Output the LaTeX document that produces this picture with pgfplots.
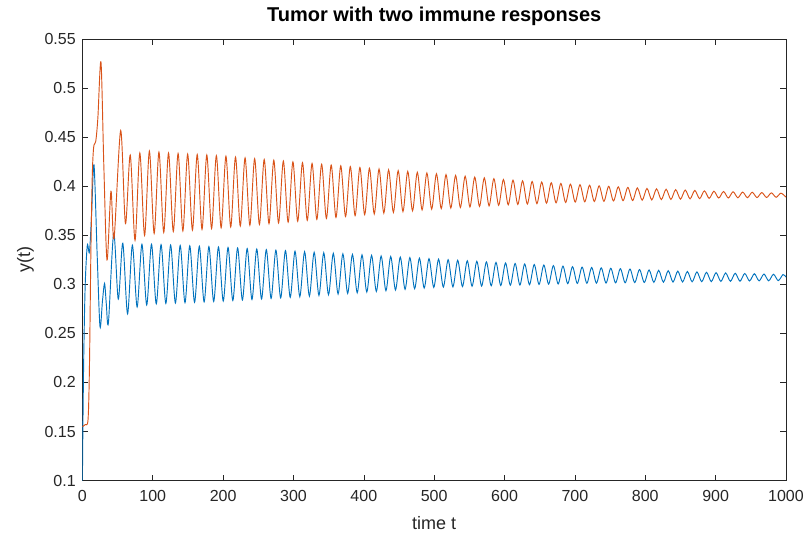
\documentclass[border=0pt]{standalone}
\usepackage{fontspec}
\setmainfont{Liberation Sans}
\usepackage{pgfplots}
\pgfplotsset{compat=1.18}
\usetikzlibrary{calc}
\definecolor{mblue}{RGB}{0,114,189}
\definecolor{morange}{RGB}{217,83,25}
\definecolor{axisgray}{RGB}{38,38,38}
\begin{document}
\begin{tikzpicture}
\begin{axis}[
  scale only axis,
  width=527.7pt, height=330.9pt,
  xmin=0, xmax=1000, ymin=0.1, ymax=0.55,
  xtick={0,100,200,300,400,500,600,700,800,900,1000},
  ytick={0.1,0.15,0.2,0.25,0.3,0.35,0.4,0.45,0.5,0.55},
  tick align=inside,
  major tick length=4.5pt,
  axis line style={draw=axisgray, line width=0.5pt},
  every tick/.style={axisgray, line width=0.5pt},
  /pgf/number format/assume math mode=true,
  /pgf/number format/1000 sep={},
  ticklabel style={font=\fontsize{12}{14}\selectfont, text=axisgray},
  yticklabel style={/pgf/number format/fixed, /pgf/number format/precision=2, xshift=-1.5pt},
  xticklabel style={yshift=-4pt},
  title={Tumor with two immune responses},
  title style={font=\fontsize{15}{18}\selectfont\bfseries, at={(axis description cs:0.5,1)}, anchor=base, yshift=7.5pt},
  xlabel={time t},
  xlabel style={font=\fontsize{13.5}{16}\selectfont, text=axisgray, at={(axis description cs:0.5,0)}, anchor=base, yshift=-36.4pt},
  ylabel={y(t)},
  ylabel style={font=\fontsize{13.5}{16}\selectfont, text=axisgray, at={(axis description cs:0,0.5)}, anchor=center, yshift=42.7pt},
]
\addplot[mblue, line width=0.7pt, smooth, tension=0.5] coordinates {
(0,0.100)(0.8,0.160)(2,0.230)(4,0.300)(7,0.340)(10,0.333)(13,0.370)(16.5,0.422)(21,0.330)(25,0.257)(28.5,0.283)(31.5,0.301)(34,0.280)(37,0.261)(44.5,0.352)(51,0.285)
(57.4,0.342)(64.2,0.270)(71.0,0.340)(77.8,0.277)(84.6,0.341)(91.4,0.279)(98.2,0.341)
(105.0,0.2802)(111.8,0.3406)(118.6,0.2806)(125.4,0.3402)(132.2,0.2810)(139.0,0.3398)(145.8,0.2814)(152.6,0.3394)(159.4,0.2818)(166.2,0.3390)
(173.0,0.2822)(179.8,0.3386)(186.6,0.2826)(193.4,0.3382)(200.2,0.2830)(207.0,0.3377)(213.8,0.2836)(220.6,0.3372)(227.4,0.2841)(234.2,0.3366)
(241.0,0.2846)(247.8,0.3361)(254.6,0.2852)(261.4,0.3355)(268.2,0.2857)(275.0,0.3350)(281.8,0.2862)(288.6,0.3345)(295.4,0.2868)(302.2,0.3339)
(309.0,0.2875)(315.8,0.3334)(322.6,0.2881)(329.4,0.3328)(336.2,0.2888)(343.0,0.3323)(349.8,0.2895)(356.6,0.3317)(363.4,0.2902)(370.2,0.3312)
(377.0,0.2909)(383.8,0.3306)(390.6,0.2915)(397.4,0.3301)(404.2,0.2922)(411.0,0.3296)(417.8,0.2929)(424.6,0.3290)(431.4,0.2936)(438.2,0.3285)
(445.0,0.2943)(451.8,0.3279)(458.6,0.2950)(465.4,0.3274)(472.2,0.2956)(479.0,0.3268)(485.8,0.2963)(492.6,0.3263)(499.4,0.2970)(506.2,0.3258)
(513.0,0.2973)(519.8,0.3252)(526.6,0.2975)(533.4,0.3247)(540.2,0.2978)(547.0,0.3241)(553.8,0.2981)(560.6,0.3236)(567.4,0.2983)(574.2,0.3230)
(581.0,0.2986)(587.8,0.3225)(594.6,0.2989)(601.4,0.3219)(608.2,0.2992)(615.0,0.3214)(621.8,0.2994)(628.6,0.3209)(635.4,0.2997)(642.2,0.3203)
(649.0,0.3000)(655.8,0.3198)(662.6,0.3003)(669.4,0.3192)(676.2,0.3005)(683.0,0.3187)(689.8,0.3008)(696.6,0.3181)(703.4,0.3010)(710.2,0.3177)
(717.0,0.3012)(723.8,0.3173)(730.6,0.3013)(737.4,0.3169)(744.2,0.3014)(751.0,0.3165)(757.8,0.3016)(764.6,0.3161)(771.4,0.3017)(778.2,0.3157)
(785.0,0.3019)(791.8,0.3152)(798.6,0.3020)(805.4,0.3148)(812.2,0.3021)(819.0,0.3144)(825.8,0.3023)(832.6,0.3140)(839.4,0.3024)(846.2,0.3136)
(853.0,0.3025)(859.8,0.3132)(866.6,0.3027)(873.4,0.3128)(880.2,0.3028)(887.0,0.3124)(893.8,0.3029)(900.6,0.3120)(907.4,0.3031)(914.2,0.3117)
(921.0,0.3032)(927.8,0.3114)(934.6,0.3033)(941.4,0.3112)(948.2,0.3035)(955.0,0.3109)(961.8,0.3036)(968.6,0.3106)(975.4,0.3037)(982.2,0.3104)
(989.0,0.3039)(995.8,0.3101)(1000,0.3075)
};
\addplot[morange, line width=0.7pt, smooth, tension=0.5] coordinates {
(0,0.155)(4,0.157)(8,0.162)(10,0.215)(12,0.330)(14,0.410)(16,0.440)(19,0.446)(22,0.470)(26.4,0.527)(30.5,0.420)(35,0.325)(40.6,0.395)(45,0.347)
(54.4,0.457)(61.2,0.362)(68.0,0.432)(74.8,0.345)(81.6,0.434)(88.4,0.350)(95.2,0.436)(102.0,0.352)
(108.8,0.4350)(115.6,0.3530)(122.4,0.4340)(129.2,0.3540)(136.0,0.4336)(142.8,0.3546)(149.6,0.4330)(156.4,0.3554)(163.2,0.4325)(170.0,0.3562)
(176.8,0.4320)(183.6,0.3570)(190.4,0.4314)(197.2,0.3578)(204.0,0.4308)(210.8,0.3586)(217.6,0.4299)(224.4,0.3595)(231.2,0.4291)(238.0,0.3603)
(244.8,0.4283)(251.6,0.3611)(258.4,0.4275)(265.2,0.3619)(272.0,0.4267)(278.8,0.3627)(285.6,0.4259)(292.4,0.3635)(299.2,0.4250)(306.0,0.3644)
(312.8,0.4242)(319.6,0.3654)(326.4,0.4234)(333.2,0.3663)(340.0,0.4226)(346.8,0.3673)(353.6,0.4218)(360.4,0.3683)(367.2,0.4210)(374.0,0.3692)
(380.8,0.4202)(387.6,0.3701)(394.4,0.4193)(401.2,0.3711)(408.0,0.4185)(414.8,0.3719)(421.6,0.4177)(428.4,0.3727)(435.2,0.4169)(442.0,0.3735)
(448.8,0.4161)(455.6,0.3743)(462.4,0.4153)(469.2,0.3751)(476.0,0.4144)(482.8,0.3760)(489.6,0.4136)(496.4,0.3768)(503.2,0.4128)(510.0,0.3774)
(516.8,0.4120)(523.6,0.3779)(530.4,0.4112)(537.2,0.3785)(544.0,0.4104)(550.8,0.3790)(557.6,0.4095)(564.4,0.3796)(571.2,0.4087)(578.0,0.3801)
(584.8,0.4079)(591.6,0.3807)(598.4,0.4071)(605.2,0.3812)(612.0,0.4064)(618.8,0.3816)(625.6,0.4057)(632.4,0.3820)(639.2,0.4050)(646.0,0.3824)
(652.8,0.4044)(659.6,0.3829)(666.4,0.4037)(673.2,0.3832)(680.0,0.4030)(686.8,0.3836)(693.6,0.4023)(700.4,0.3840)(707.2,0.4017)(714.0,0.3843)
(720.8,0.4012)(727.6,0.3846)(734.4,0.4006)(741.2,0.3848)(748.0,0.4001)(754.8,0.3851)(761.6,0.3995)(768.4,0.3854)(775.2,0.3990)(782.0,0.3856)
(788.8,0.3984)(795.6,0.3859)(802.4,0.3979)(809.2,0.3862)(816.0,0.3975)(822.8,0.3865)(829.6,0.3971)(836.4,0.3867)(843.2,0.3967)(850.0,0.3870)
(856.8,0.3963)(863.6,0.3873)(870.4,0.3959)(877.2,0.3875)(884.0,0.3955)(890.8,0.3878)(897.6,0.3951)(904.4,0.3881)(911.2,0.3948)(918.0,0.3882)
(924.8,0.3945)(931.6,0.3884)(938.4,0.3942)(945.2,0.3885)(952.0,0.3940)(958.8,0.3886)(965.6,0.3937)(972.4,0.3887)(979.2,0.3934)(986.0,0.3889)
(992.8,0.3931)(1000,0.3890)
};
\end{axis}
\pgfresetboundingbox
\path ($(current axis.south west)+(-61.8pt,-39.4pt)$) rectangle ($(current axis.north east)+(16.5pt,29.5pt)$);
\end{tikzpicture}
\end{document}
